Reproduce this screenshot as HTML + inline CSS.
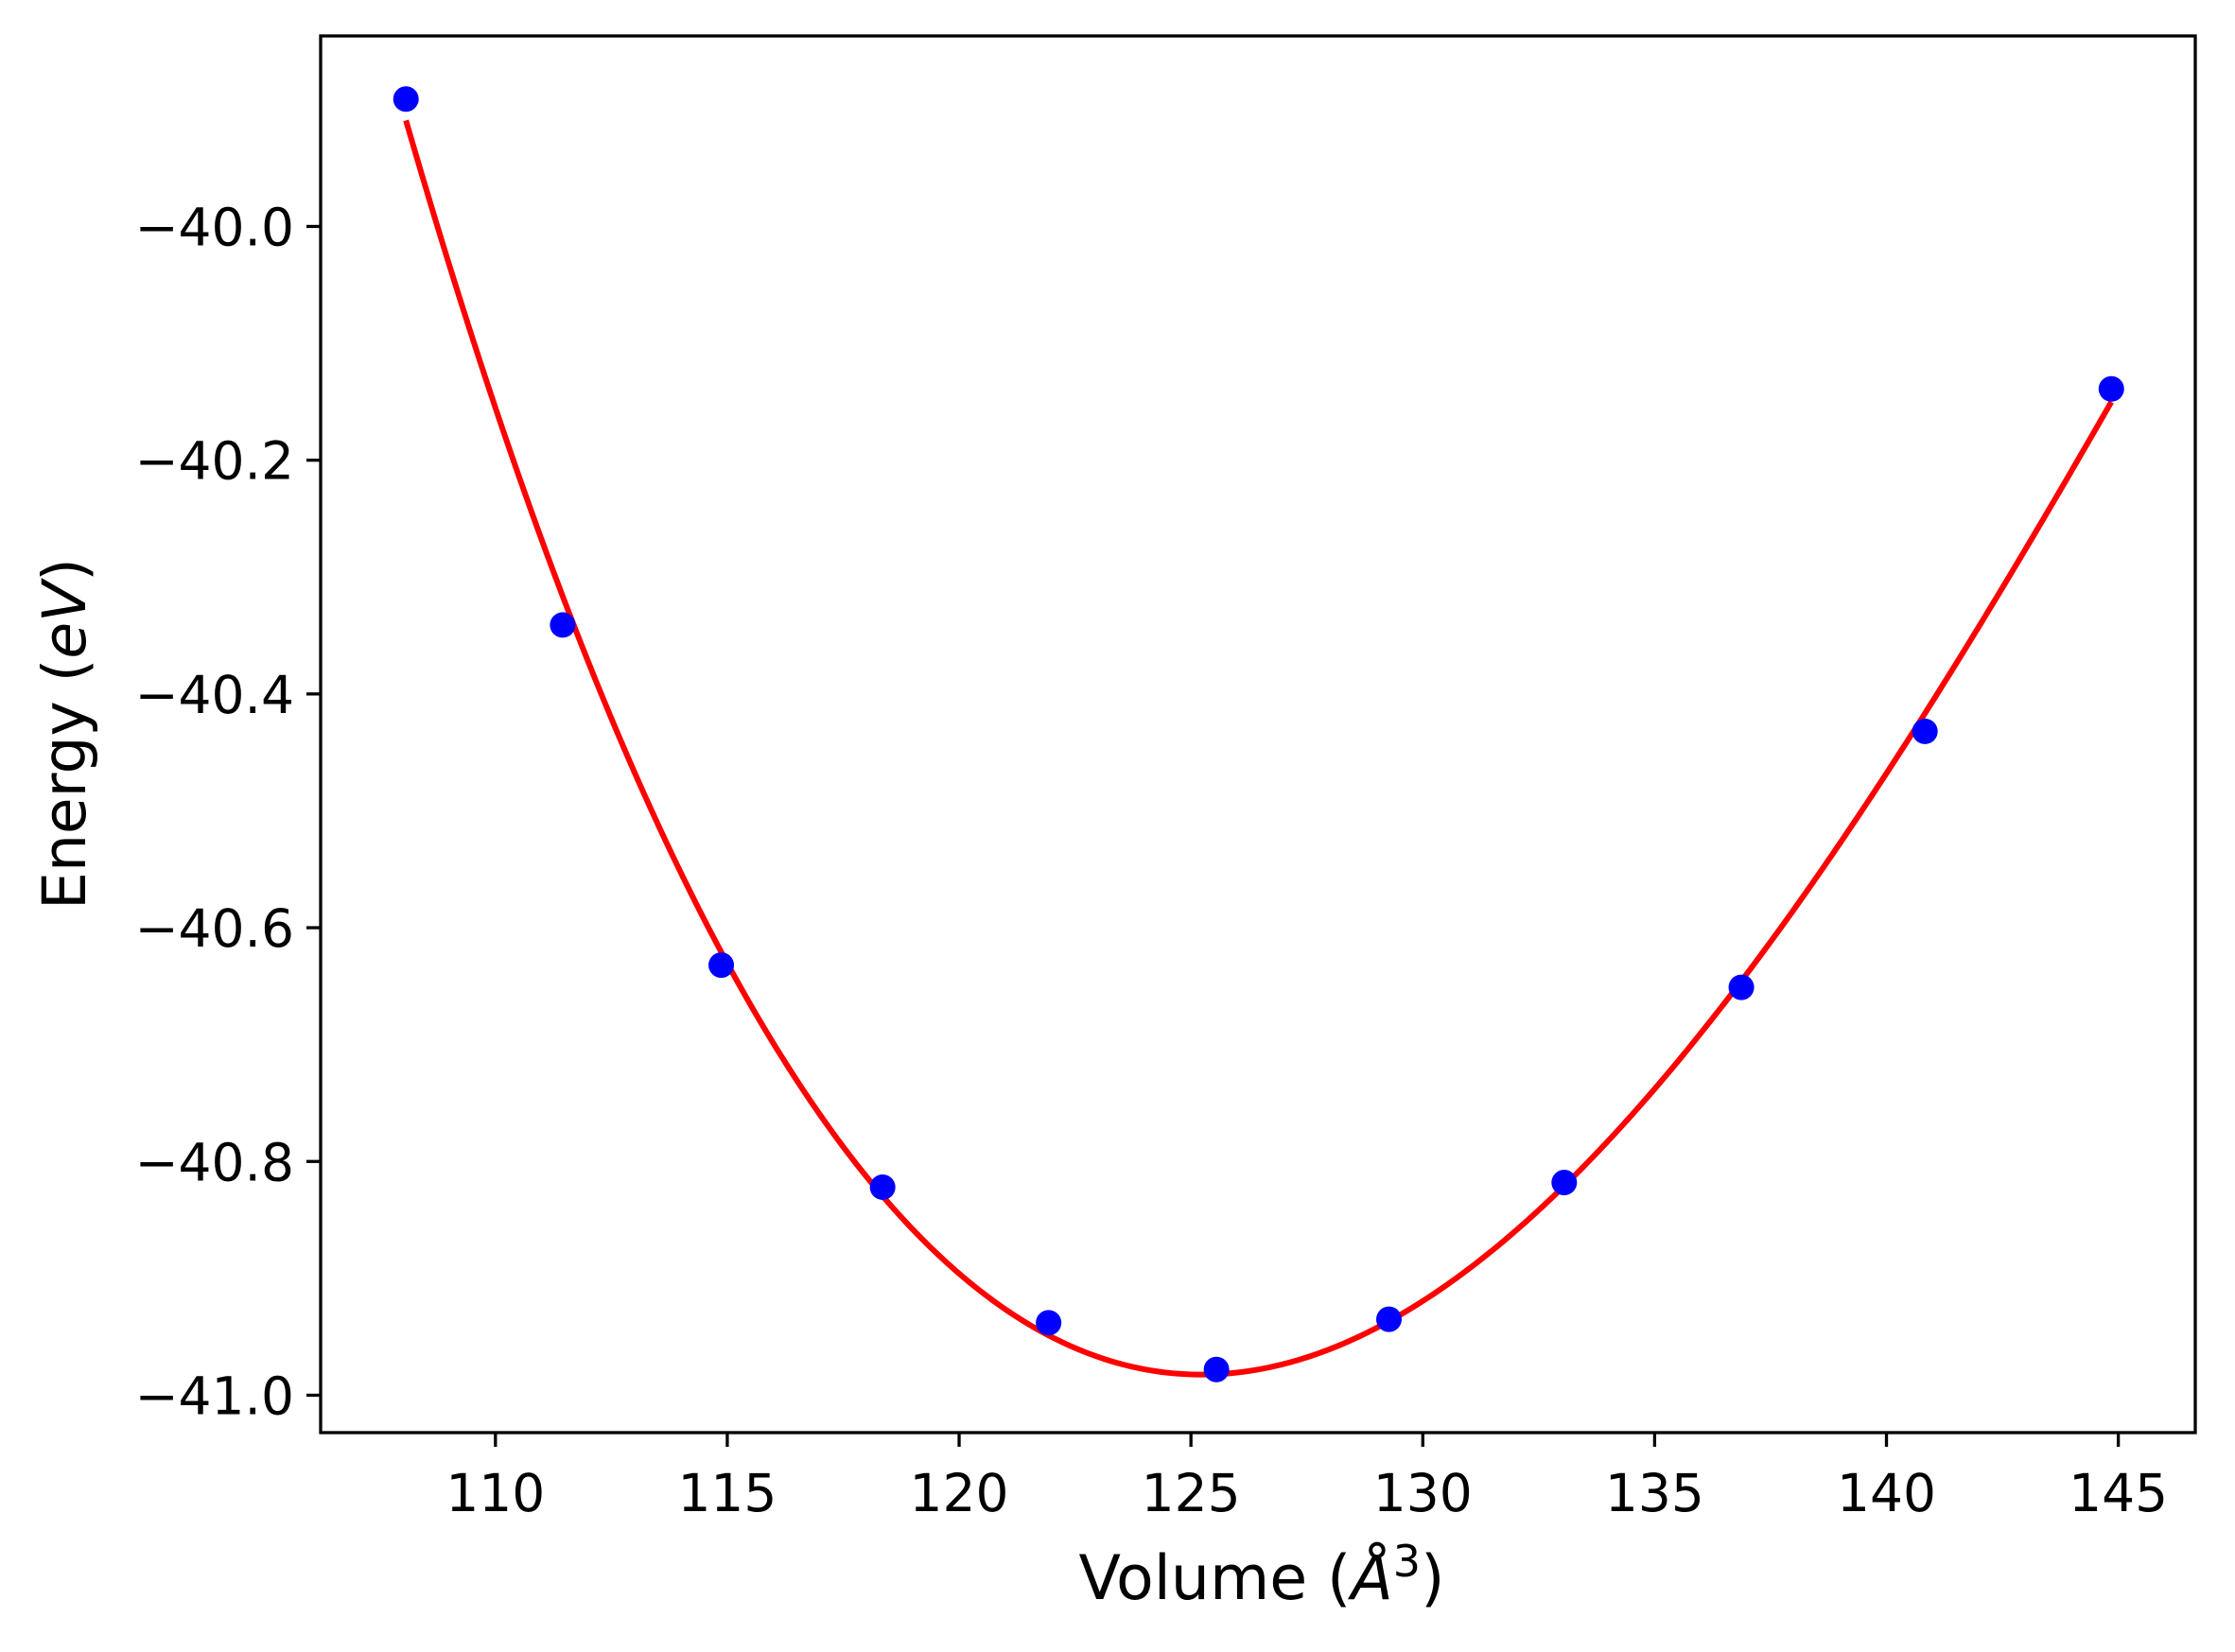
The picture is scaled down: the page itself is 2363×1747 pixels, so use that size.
<!DOCTYPE html>
<html><head><meta charset="utf-8"><style>
html,body{margin:0;padding:0;background:#fff;}
svg{display:block;font-family:"DejaVu Sans","Liberation Sans",sans-serif;}
</style></head><body>
<svg id="chart" width="2363" height="1747" viewBox="0 0 2363 1747" xmlns="http://www.w3.org/2000/svg">
<rect x="0" y="0" width="2363" height="1747" fill="#fff"/>
<g id="plot"></g>
<g id="axes"></g>
<text x="1334" y="1691" font-size="65" text-anchor="middle">Volume (<tspan font-style="italic">Å</tspan><tspan font-size="46" dy="-24">3</tspan><tspan dy="24">)</tspan></text>
<text transform="translate(90,776) rotate(-90)" font-size="63" text-anchor="middle">Energy (<tspan font-style="italic">eV</tspan>)</text>
</svg>
<script>
const volumes = [108.07, 111.45, 114.87, 118.35, 121.93, 125.55, 129.27, 133.05, 136.87, 140.83, 144.85];
const energies = [-39.891, -40.341, -40.632, -40.822, -40.938, -40.978, -40.935, -40.818, -40.651, -40.432, -40.139];
const xTicks = [110, 115, 120, 125, 130, 135, 140, 145];
const yTicks = [-40.0, -40.2, -40.4, -40.6, -40.8, -41.0];

const L = 339, R = 2321, T = 38, B = 1515;
const xMin = 106.23, xMax = 146.66, yMin = -41.032, yMax = -39.837;
const NS = 'http://www.w3.org/2000/svg';
function sx(v){ return L + (v - xMin) / (xMax - xMin) * (R - L); }
function sy(v){ return B - (v - yMin) / (yMax - yMin) * (B - T); }
function mk(tag, attrs, parent){
  const e = document.createElementNS(NS, tag);
  for (const k in attrs) e.setAttribute(k, attrs[k]);
  parent.appendChild(e);
  return e;
}
const plot = document.getElementById('plot');
const axes = document.getElementById('axes');

function fitPoly(xs, ys, n){
  const xc = xs.reduce((a,b)=>a+b,0)/xs.length, sc = 10;
  const A = [], bvec = [];
  for (let i=0;i<n;i++){ A.push(new Array(n).fill(0)); bvec.push(0); }
  xs.forEach((x,k)=>{
    const d = (x - xc)/sc;
    const p = []; for (let i=0;i<n;i++) p.push(Math.pow(d,i));
    for (let i=0;i<n;i++){ bvec[i]+=p[i]*ys[k]; for (let j=0;j<n;j++) A[i][j]+=p[i]*p[j]; }
  });
  for (let i=0;i<n;i++){
    let m=i; for (let r=i+1;r<n;r++) if (Math.abs(A[r][i])>Math.abs(A[m][i])) m=r;
    [A[i],A[m]]=[A[m],A[i]]; [bvec[i],bvec[m]]=[bvec[m],bvec[i]];
    for (let r=0;r<n;r++){ if (r===i) continue; const f=A[r][i]/A[i][i];
      for (let j=i;j<n;j++) A[r][j]-=f*A[i][j]; bvec[r]-=f*bvec[i]; }
  }
  const c = bvec.map((v,i)=>v/A[i][i]);
  return x => { const d=(x-xc)/sc; let s=0; for (let i=0;i<n;i++) s+=c[i]*Math.pow(d,i); return s; };
}
const f = fitPoly(volumes, energies, 4);
const v0 = Math.min(...volumes), v1 = Math.max(...volumes);
let dstr = '';
for (let i=0;i<=300;i++){
  const v = v0 + (v1 - v0) * i / 300;
  dstr += (i ? 'L' : 'M') + sx(v).toFixed(2) + ' ' + sy(f(v)).toFixed(2);
}
const curve = mk('path', {d: dstr, fill: 'none', stroke: '#ff0000', 'stroke-width': 6, 'stroke-linejoin': 'round'}, plot);



volumes.forEach((v, i) => {
  const c = mk('circle', {cx: sx(v), cy: sy(energies[i]), r: 13.5, fill: '#0000ff'}, plot);
  
  
});

xTicks.forEach(t => {
  const x = sx(t);
  const tk = mk('line', {x1: x, x2: x, y1: B, y2: B + 15, stroke: '#000', 'stroke-width': 3.3}, axes);
  
  
  const lb = mk('text', {x: x, y: B + 83, 'font-size': 55, 'text-anchor': 'middle'}, axes);
  
  
  lb.textContent = String(t);
});
yTicks.forEach(t => {
  const y = sy(t);
  const tk = mk('line', {x1: L - 15, x2: L, y1: y, y2: y, stroke: '#000', 'stroke-width': 3.3}, axes);
  
  
  const lb = mk('text', {x: L - 28, y: y + 20, 'font-size': 55, 'text-anchor': 'end'}, axes);
  
  
  lb.textContent = '\u2212' + Math.abs(t).toFixed(1);
});
const frame = mk('rect', {x: L, y: T, width: R - L, height: B - T, fill: 'none', stroke: '#000', 'stroke-width': 3.3}, axes);


</script>
</body></html>
